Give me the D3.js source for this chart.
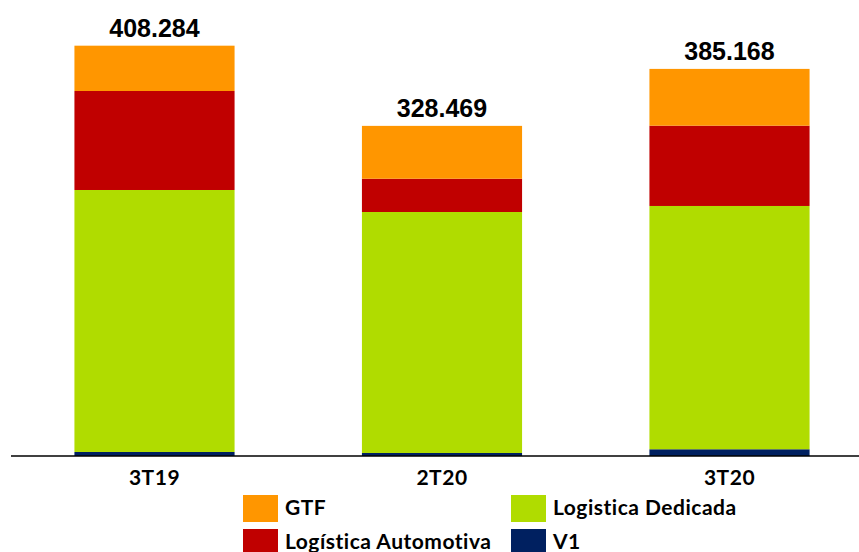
<!DOCTYPE html>
<html>
<head>
<meta charset="utf-8">
<script src="https://cdn.jsdelivr.net/npm/d3@7"></script>
<style>
  body { margin: 0; background: #fff; }
</style>
</head>
<body>
<div id="chart"></div>
<script>
const categories = ["3T19", "2T20", "3T20"];
const totals = ["408.284", "328.469", "385.168"];
const seriesNames = ["V1", "Logistica Dedicada", "Logística Automotiva", "GTF"];
const v1 = [4.0, 3.0, 6.7];
const logDedicada = [260.7, 239.8, 242.1];
const logAutomotiva = [98.5, 33.1, 79.9];
const gtf = [45.1, 52.6, 56.5];
const colors = ["#002060", "#B0DC00", "#C00000", "#FF9600"];

const W = 859, H = 552;
const Base = 456;

const svg = d3.select("#chart").append("svg")
  .attr("width", W).attr("height", H);

const rows = categories.map((c, i) => ({
  cat: c, total: totals[i],
  "V1": v1[i],
  "Logistica Dedicada": logDedicada[i],
  "Logística Automotiva": logAutomotiva[i],
  "GTF": gtf[i]
}));

const stack = d3.stack().keys(seriesNames);
const layers = stack(rows);

const x = d3.scaleBand()
  .domain(categories)
  .range([10.75, 873.25])
  .paddingInner(0.443)
  .paddingOuter(0.2215);

const y = d3.scaleLinear()
  .domain([0, 408.284])
  .range([Base, 45.7]);

const color = d3.scaleOrdinal().domain(seriesNames).range(colors);

svg.selectAll("g.layer")
  .data(layers)
  .enter().append("g")
    .attr("class", "layer")
    .attr("fill", d => color(d.key))
  .selectAll("rect")
  .data(d => d)
  .enter().append("rect")
    .attr("x", d => x(d.data.cat))
    .attr("y", d => y(d[1]))
    .attr("width", x.bandwidth())
    .attr("height", d => y(d[0]) - y(d[1]));

// totals on top
svg.selectAll("text.total")
  .data(layers[layers.length - 1])
  .enter().append("text")
    .attr("class", "total")
    .attr("x", d => x(d.data.cat) + x.bandwidth() / 2)
    .attr("y", d => y(d[1]) - 8.5)
    .attr("text-anchor", "middle")
    .attr("font-family", "Liberation Sans, Arial, sans-serif")
    .attr("font-weight", "bold")
    .attr("font-size", 25)
    .attr("fill", "#000")
    .text(d => d.data.total);

// x axis
const xAxis = d3.axisBottom(x).tickSize(0).tickPadding(14);
const gx = svg.append("g")
  .attr("transform", `translate(0,${Base})`)
  .call(xAxis);
gx.select(".domain").remove();
gx.append("line")
  .attr("x1", 11).attr("x2", W)
  .attr("stroke", "#000").attr("stroke-width", 1.5);
gx.selectAll(".tick text")
  .attr("font-family", "Lato, sans-serif")
  .attr("font-weight", "bold")
  .attr("font-size", 21)
  .attr("letter-spacing", 0.5)
  .attr("fill", "#000");

// legend
const legendItems = [
  {name: "GTF", col: 0, row: 0},
  {name: "Logistica Dedicada", col: 1, row: 0},
  {name: "Logística Automotiva", col: 0, row: 1},
  {name: "V1", col: 1, row: 1}
];
const legX = [243, 511], legY = [495, 529];
const lg = svg.selectAll("g.leg")
  .data(legendItems)
  .enter().append("g")
    .attr("class", "leg")
    .attr("transform", d => `translate(${legX[d.col]},${legY[d.row]})`);
lg.append("rect")
  .attr("width", 35).attr("height", 27)
  .attr("fill", d => color(d.name));
lg.append("text")
  .attr("x", 42).attr("y", 19.5)
  .attr("font-family", "Lato, sans-serif")
  .attr("font-weight", "bold")
  .attr("font-size", 21)
  .attr("letter-spacing", 0.5)
  .attr("fill", "#000")
  .text(d => d.name);
</script>
</body>
</html>
